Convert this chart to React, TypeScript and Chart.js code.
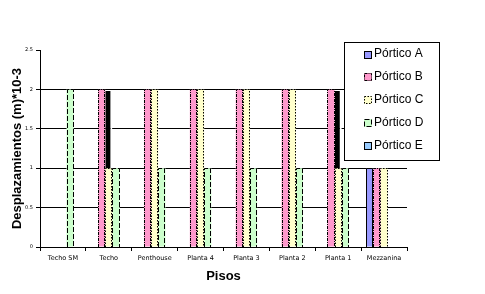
import React, { useEffect, useRef } from 'react';
import { Chart, registerables } from 'chart.js';

Chart.register(...registerables);

const categories = ['Techo SM', 'Techo', 'Penthouse', 'Planta 4', 'Planta 3', 'Planta 2', 'Planta 1', 'Mezzanina'];
const seriesNames = ['Pórtico A', 'Pórtico B', 'Pórtico C', 'Pórtico D', 'Pórtico E'];
const porticoA = [null, null, null, null, null, null, null, 1];
const porticoB = [null, 2, 2, 2, 2, 2, 2, 1];
const porticoC = [null, 1, 2, 2, 2, 2, 1, 1];
const porticoD = [2, 1, 1, 1, 1, 1, 1, null];
const porticoE = [null, null, null, null, null, null, null, null];
const porticoCExtra = [null, 0.98, null, null, null, null, 0.98, null];
const yTickValues = [0, 0.5, 1, 1.5, 2, 2.5];

const colors = ['#9999FF', '#FF99CC', '#FFFFCC', '#CCFFCC', '#99CCFF'];
const dashes: number[][] = [[], [3, 1, 1, 1], [1.5, 1.5], [5, 2], []];

const barBorderPlugin = {
  id: 'barBorders',
  afterDatasetsDraw(chart: any) {
    const ctx = chart.ctx;
    ctx.save();
    ctx.strokeStyle = '#000';
    ctx.lineWidth = 1;
    chart.data.datasets.forEach((ds: any, i: number) => {
      if (i > 4) return;
      const meta = chart.getDatasetMeta(i);
      ctx.setLineDash(dashes[i]);
      meta.data.forEach((el: any, j: number) => {
        if (ds.data[j] == null) return;
        const { x, y, base, width } = el.getProps(['x', 'y', 'base', 'width'], true);
        const l = Math.round(x - width / 2) + 0.5;
        const r = Math.round(x + width / 2) - 0.5;
        const t = Math.round(y) + 0.5;
        const b = Math.round(base);
        ctx.beginPath();
        ctx.moveTo(l, b);
        ctx.lineTo(l, t);
        ctx.lineTo(r, t);
        ctx.lineTo(r, b);
        ctx.stroke();
      });
    });
    ctx.restore();
  },
};

const legendPlugin = {
  id: 'boxLegend',
  afterDraw(chart: any) {
    const ctx = chart.ctx;
    ctx.save();
    ctx.fillStyle = '#fff';
    ctx.fillRect(344, 42, 95, 118);
    ctx.strokeStyle = '#000';
    ctx.lineWidth = 1;
    ctx.setLineDash([]);
    ctx.strokeRect(344.5, 42.5, 95, 118);
    ctx.font = '12px "Liberation Sans", Arial, sans-serif';
    ctx.textBaseline = 'alphabetic';
    ctx.textAlign = 'left';
    for (let i = 0; i < 5; i++) {
      const ds = chart.data.datasets[i];
      const top = Math.round(50.5 + i * 22.9);
      ctx.fillStyle = ds.backgroundColor;
      ctx.fillRect(364, top, 8, 8);
      ctx.setLineDash(dashes[i]);
      ctx.strokeStyle = '#000';
      ctx.strokeRect(364.5, top + 0.5, 7, 7);
      ctx.setLineDash([]);
      ctx.fillStyle = '#000';
      ctx.fillText(ds.label, 374, 57.3 + i * 22.9);
    }
    ctx.restore();
  },
};

export default function App() {
  const canvasRef = useRef<HTMLCanvasElement | null>(null);

  useEffect(() => {
    const canvas = canvasRef.current;
    if (!canvas) return;
    const seriesData = [porticoA, porticoB, porticoC, porticoD, porticoE];
    const datasets: any[] = seriesData.map((d, i) => ({
      label: seriesNames[i],
      data: d,
      backgroundColor: colors[i],
      borderWidth: 0,
      stack: 'S' + i,
      categoryPercentage: 0.78,
      barPercentage: 1,
    }));
    datasets.push({
      label: 'extra',
      data: porticoCExtra,
      backgroundColor: '#000',
      borderColor: '#fff',
      borderWidth: { left: 0, right: 2, top: 0, bottom: 0 },
      borderSkipped: false,
      stack: 'S2',
      categoryPercentage: 0.78,
      barPercentage: 1,
    });

    const chart = new Chart(canvas, {
      type: 'bar',
      data: { labels: categories, datasets },
      plugins: [barBorderPlugin, legendPlugin],
      options: {
        responsive: false,
        animation: false,
        layout: { padding: { left: 0, right: 78, top: 50, bottom: 0 } },
        plugins: {
          legend: { display: false },
          tooltip: { enabled: false },
        },
        scales: {
          x: {
            afterFit: (s: any) => { s.height = 47; },
            grid: {
              drawOnChartArea: false,
              drawTicks: true,
              tickLength: 4,
              color: '#000',
              offset: true,
            },
            border: { display: true, color: '#000', width: 1 },
            ticks: {
              color: '#000',
              padding: 3,
              maxRotation: 0,
              autoSkip: false,
              font: { family: '"DejaVu Sans", Verdana, sans-serif', size: 6.5 },
            },
            title: {
              display: true,
              text: 'Pisos',
              color: '#000',
              padding: { top: 0, bottom: 9.5 },
              font: { family: '"Liberation Sans", Arial, sans-serif', size: 13, weight: 'bold' },
            },
          },
          y: {
            min: 0,
            max: 2.5,
            afterFit: (s: any) => { s.width = 40; },
            afterBuildTicks: (s: any) => { s.ticks = yTickValues.map((v) => ({ value: v })); },
            grid: {
              color: (c: any) => (c.tick && c.tick.value === 2.5 ? 'rgba(0,0,0,0)' : '#000'),
              tickColor: '#000',
              drawTicks: true,
              tickLength: 4,
            },
            border: { display: true, color: '#000', width: 1 },
            ticks: {
              color: '#000',
              padding: 3,
              callback: (v: any) => String(v),
              font: { family: '"DejaVu Sans", Verdana, sans-serif', size: 5 },
            },
            title: {
              display: true,
              text: 'Desplazamientos (m)*10-3',
              color: '#000',
              padding: { top: 10, bottom: 0 },
              font: { family: '"Liberation Sans", Arial, sans-serif', size: 13, weight: 'bold' },
            },
          },
        },
      } as any,
    });
    return () => chart.destroy();
  }, []);

  return (
    <div style={{ position: 'fixed', left: 0, top: 0, width: 485, height: 294, background: '#fff' }}>
      <canvas ref={canvasRef} width={485} height={294} style={{ width: 485, height: 294, display: 'block' }} />
    </div>
  );
}
